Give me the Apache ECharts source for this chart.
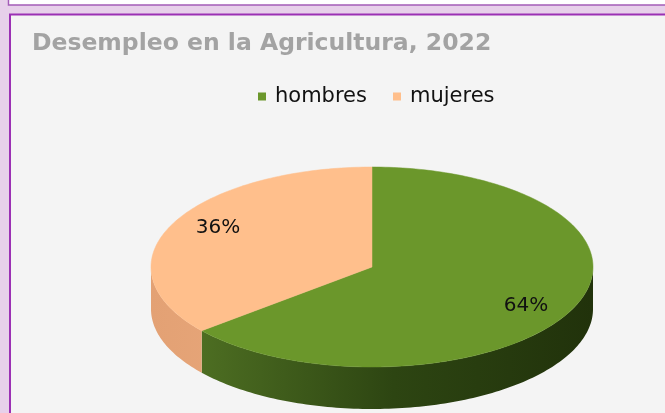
<!DOCTYPE html>
<html>
<head>
<meta charset="utf-8">
<script src="https://cdn.jsdelivr.net/npm/echarts@6/dist/echarts.min.js"></script>
<style>
html,body{margin:0;padding:0;background:#e7d0ea;}
#c{width:665px;height:413px;}
</style>
</head>
<body>
<div id="c"></div>
<script>
const titleText = 'Desempleo en la Agricultura, 2022';
const categories = ['hombres', 'mujeres'];
const values = [64, 36];
const topColors = ['#6b972b', '#ffbf8c'];
const sideColors = [['#557826', '#2d4512', '#21320b'], ['#e3a174', '#eeae82', '#f2b386']];

const total = values.reduce((a, b) => a + b, 0);
const starts = [];
values.reduce((acc, v, i) => { starts[i] = acc; return acc + v; }, 0);

// geometry of the tilted pie
const CX = 372, CY = 267, RX = 221, RY = 100, DEPTH = 42;

function pt(a, dy) { return [CX + RX * Math.cos(a), CY + (dy || 0) + RY * Math.sin(a)]; }
function arc(a1, a2, dy) {
  const n = Math.max(8, Math.ceil(Math.abs(a2 - a1) / 0.02));
  const out = [];
  for (let k = 0; k <= n; k++) out.push(pt(a1 + (a2 - a1) * k / n, dy));
  return out;
}

function makeRender(idx) {
  return function (params, api) {
    const s = api.value(0), v = api.value(1), t = api.value(2);
    const a1 = -Math.PI / 2 + 2 * Math.PI * s / t;
    const a2 = -Math.PI / 2 + 2 * Math.PI * (s + v) / t;
    const children = [];
    // front side faces (angles where sin > 0)
    const fronts = [[0, Math.PI], [2 * Math.PI, 3 * Math.PI], [-2 * Math.PI, -Math.PI]];
    fronts.forEach(function (f) {
      const lo = Math.max(a1, f[0]), hi = Math.min(a2, f[1]);
      if (hi > lo) {
        const top = arc(lo, hi, 0);
        const bot = arc(hi, lo, DEPTH);
        const sc = sideColors[idx];
        children.push({
          type: 'polygon',
          shape: { points: top.concat(bot) },
          style: {
            fill: new echarts.graphic.LinearGradient(CX - RX, 0, CX + RX, 0, [
              { offset: 0, color: sc[0] }, { offset: 0.55, color: sc[1] }, { offset: 1, color: sc[2] }
            ], true),
            stroke: null
          }
        });
      }
    });
    // top face
    const topPts = [[CX, CY]].concat(arc(a1, a2, 0));
    children.push({
      type: 'polygon',
      shape: { points: topPts },
      style: { fill: api.visual('color'), stroke: api.visual('color'), lineWidth: 0.5 }
    });
    // label
    const mid = (a1 + a2) / 2;
    children.push({
      type: 'text',
      x: CX + RX * 0.77 * Math.cos(mid),
      y: CY + RY * 0.92 * Math.sin(mid),
      style: {
        text: Math.round(v / t * 100) + '%',
        fontFamily: 'DejaVu Sans', fontSize: 20, fill: '#111111',
        align: 'center', verticalAlign: 'middle'
      }
    });
    return { type: 'group', children: children };
  };
}

const chart = echarts.init(document.getElementById('c'), null, { renderer: 'canvas' });
chart.setOption({
  animation: false,
  backgroundColor: '#e7d0ea',
  title: {
    text: titleText, left: 32, top: 32, padding: 0,
    textStyle: { fontFamily: 'DejaVu Sans', fontWeight: 'bold', fontSize: 23.5, color: '#a3a3a3' }
  },
  legend: {
    data: categories, left: 258, top: 86, padding: 0,
    icon: 'rect', itemWidth: 8, itemHeight: 8, itemGap: 26,
    textStyle: { fontFamily: 'DejaVu Sans', fontSize: 21, color: '#111111', padding: [0, 0, 0, 4] }
  },
  graphic: [
    { type: 'rect', z: 0, shape: { x: 8.5, y: -10, width: 700, height: 15 },
      style: { fill: '#ffffff', stroke: '#a45cb8', lineWidth: 1.5 } },
    { type: 'rect', z: 0, shape: { x: 10, y: 14.5, width: 700, height: 420 },
      style: { fill: '#f4f4f4', stroke: '#9b30b4', lineWidth: 2 } }
  ],
  series: categories.map(function (name, i) {
    return {
      type: 'custom', name: name, coordinateSystem: 'none', z: 2,
      itemStyle: { color: topColors[i] },
      renderItem: makeRender(i),
      data: [[starts[i], values[i], total]]
    };
  })
});
</script>
</body>
</html>
